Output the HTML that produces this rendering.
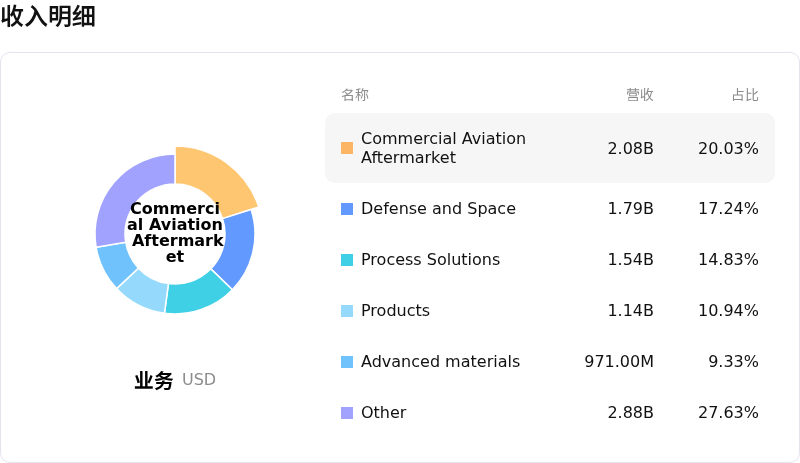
<!DOCTYPE html>
<html lang="zh"><head><meta charset="utf-8"><title>收入明细</title>
<style>
html,body{margin:0;padding:0;background:#fff;}
body{width:800px;height:463px;overflow:hidden;position:relative;font-family:"DejaVu Sans","Noto Sans SC","Noto Sans CJK SC","Liberation Sans",sans-serif;color:#111;}
h1{position:absolute;left:0;top:1px;margin:0;font-size:24px;line-height:32px;font-weight:650;color:#111;}
.card{position:absolute;left:0;top:52px;width:798px;height:409px;border:1px solid #e3e3f0;border-radius:10px;background:#fff;}
svg.donut{position:absolute;left:0;top:0;}
.center{position:absolute;left:105px;width:140px;top:201px;text-align:center;font-weight:700;font-size:16px;line-height:16px;white-space:pre;color:#000;}
.unit{position:absolute;left:134px;top:366px;white-space:nowrap;line-height:26px;}
.unit b{position:relative;top:2px;font-size:20px;font-weight:700;color:#000;}
.unit span{position:relative;top:-1px;font-size:16px;color:#8c8c8c;margin-left:8px;}
.table{position:absolute;left:325px;top:76px;width:450px;}
.head{height:37px;position:relative;font-size:14px;color:#8c8c8c;}
.head span{position:absolute;top:1px;line-height:37px;}
.row{position:relative;height:51px;border-radius:10px;font-size:16px;color:#111;}
.row.hl{height:70px;background:#f6f6f6;}
.row:not(.hl) span{margin-top:-1px;}
.row:not(.hl) i{margin-top:-5.5px;}
.row i{position:absolute;left:16px;top:50%;margin-top:-6px;width:12px;height:12px;display:block;}
.row .n{position:absolute;left:36px;top:50%;transform:translateY(-50%);line-height:19px;white-space:nowrap;}
.row .v{position:absolute;right:121px;top:50%;transform:translateY(-50%);line-height:19px;}
.row .p{position:absolute;right:16px;top:50%;transform:translateY(-50%);line-height:19px;}
</style></head><body>
<h1>收入明细</h1>
<div class="card"></div>
<svg class="donut" width="800" height="463" viewBox="0 0 800 463">
<path d="M175.00 146.00A88 88 0 0 1 258.74 206.96L222.58 218.64A50 50 0 0 0 175.00 184.00Z" fill="#FFC671" stroke="#fff" stroke-width="1.5" stroke-linejoin="round"/>
<path d="M251.13 209.42A80 80 0 0 1 232.38 289.75L210.86 268.84A50 50 0 0 0 222.58 218.64Z" fill="#6299FF" stroke="#fff" stroke-width="1.5" stroke-linejoin="round"/>
<path d="M232.38 289.75A80 80 0 0 1 164.47 313.30L168.42 283.57A50 50 0 0 0 210.86 268.84Z" fill="#40D0E5" stroke="#fff" stroke-width="1.5" stroke-linejoin="round"/>
<path d="M164.47 313.30A80 80 0 0 1 116.55 288.62L138.47 268.14A50 50 0 0 0 168.42 283.57Z" fill="#95DAFD" stroke="#fff" stroke-width="1.5" stroke-linejoin="round"/>
<path d="M116.55 288.62A80 80 0 0 1 96.09 247.16L125.68 242.22A50 50 0 0 0 138.47 268.14Z" fill="#70C2FC" stroke="#fff" stroke-width="1.5" stroke-linejoin="round"/>
<path d="M96.09 247.16A80 80 0 0 1 175.00 154.00L175.00 184.00A50 50 0 0 0 125.68 242.22Z" fill="#A1A2FE" stroke="#fff" stroke-width="1.5" stroke-linejoin="round"/>
</svg>
<div class="center">Commerci
al Aviation
 Aftermark
et</div>
<div class="unit"><b>业务</b><span>USD</span></div>
<div class="table">
<div class="head"><span style="left:16px">名称</span><span style="right:121px">营收</span><span style="right:16px">占比</span></div>
<div class="row hl"><i style="background:#FBB565"></i><span class="n">Commercial Aviation<br>Aftermarket</span><span class="v">2.08B</span><span class="p">20.03%</span></div>
<div class="row"><i style="background:#6299FF"></i><span class="n">Defense and Space</span><span class="v">1.79B</span><span class="p">17.24%</span></div>
<div class="row"><i style="background:#40D0E5"></i><span class="n">Process Solutions</span><span class="v">1.54B</span><span class="p">14.83%</span></div>
<div class="row"><i style="background:#95DAFD"></i><span class="n">Products</span><span class="v">1.14B</span><span class="p">10.94%</span></div>
<div class="row"><i style="background:#70C2FC"></i><span class="n">Advanced materials</span><span class="v">971.00M</span><span class="p">9.33%</span></div>
<div class="row"><i style="background:#A1A2FE"></i><span class="n">Other</span><span class="v">2.88B</span><span class="p">27.63%</span></div>
</div>
</body></html>
